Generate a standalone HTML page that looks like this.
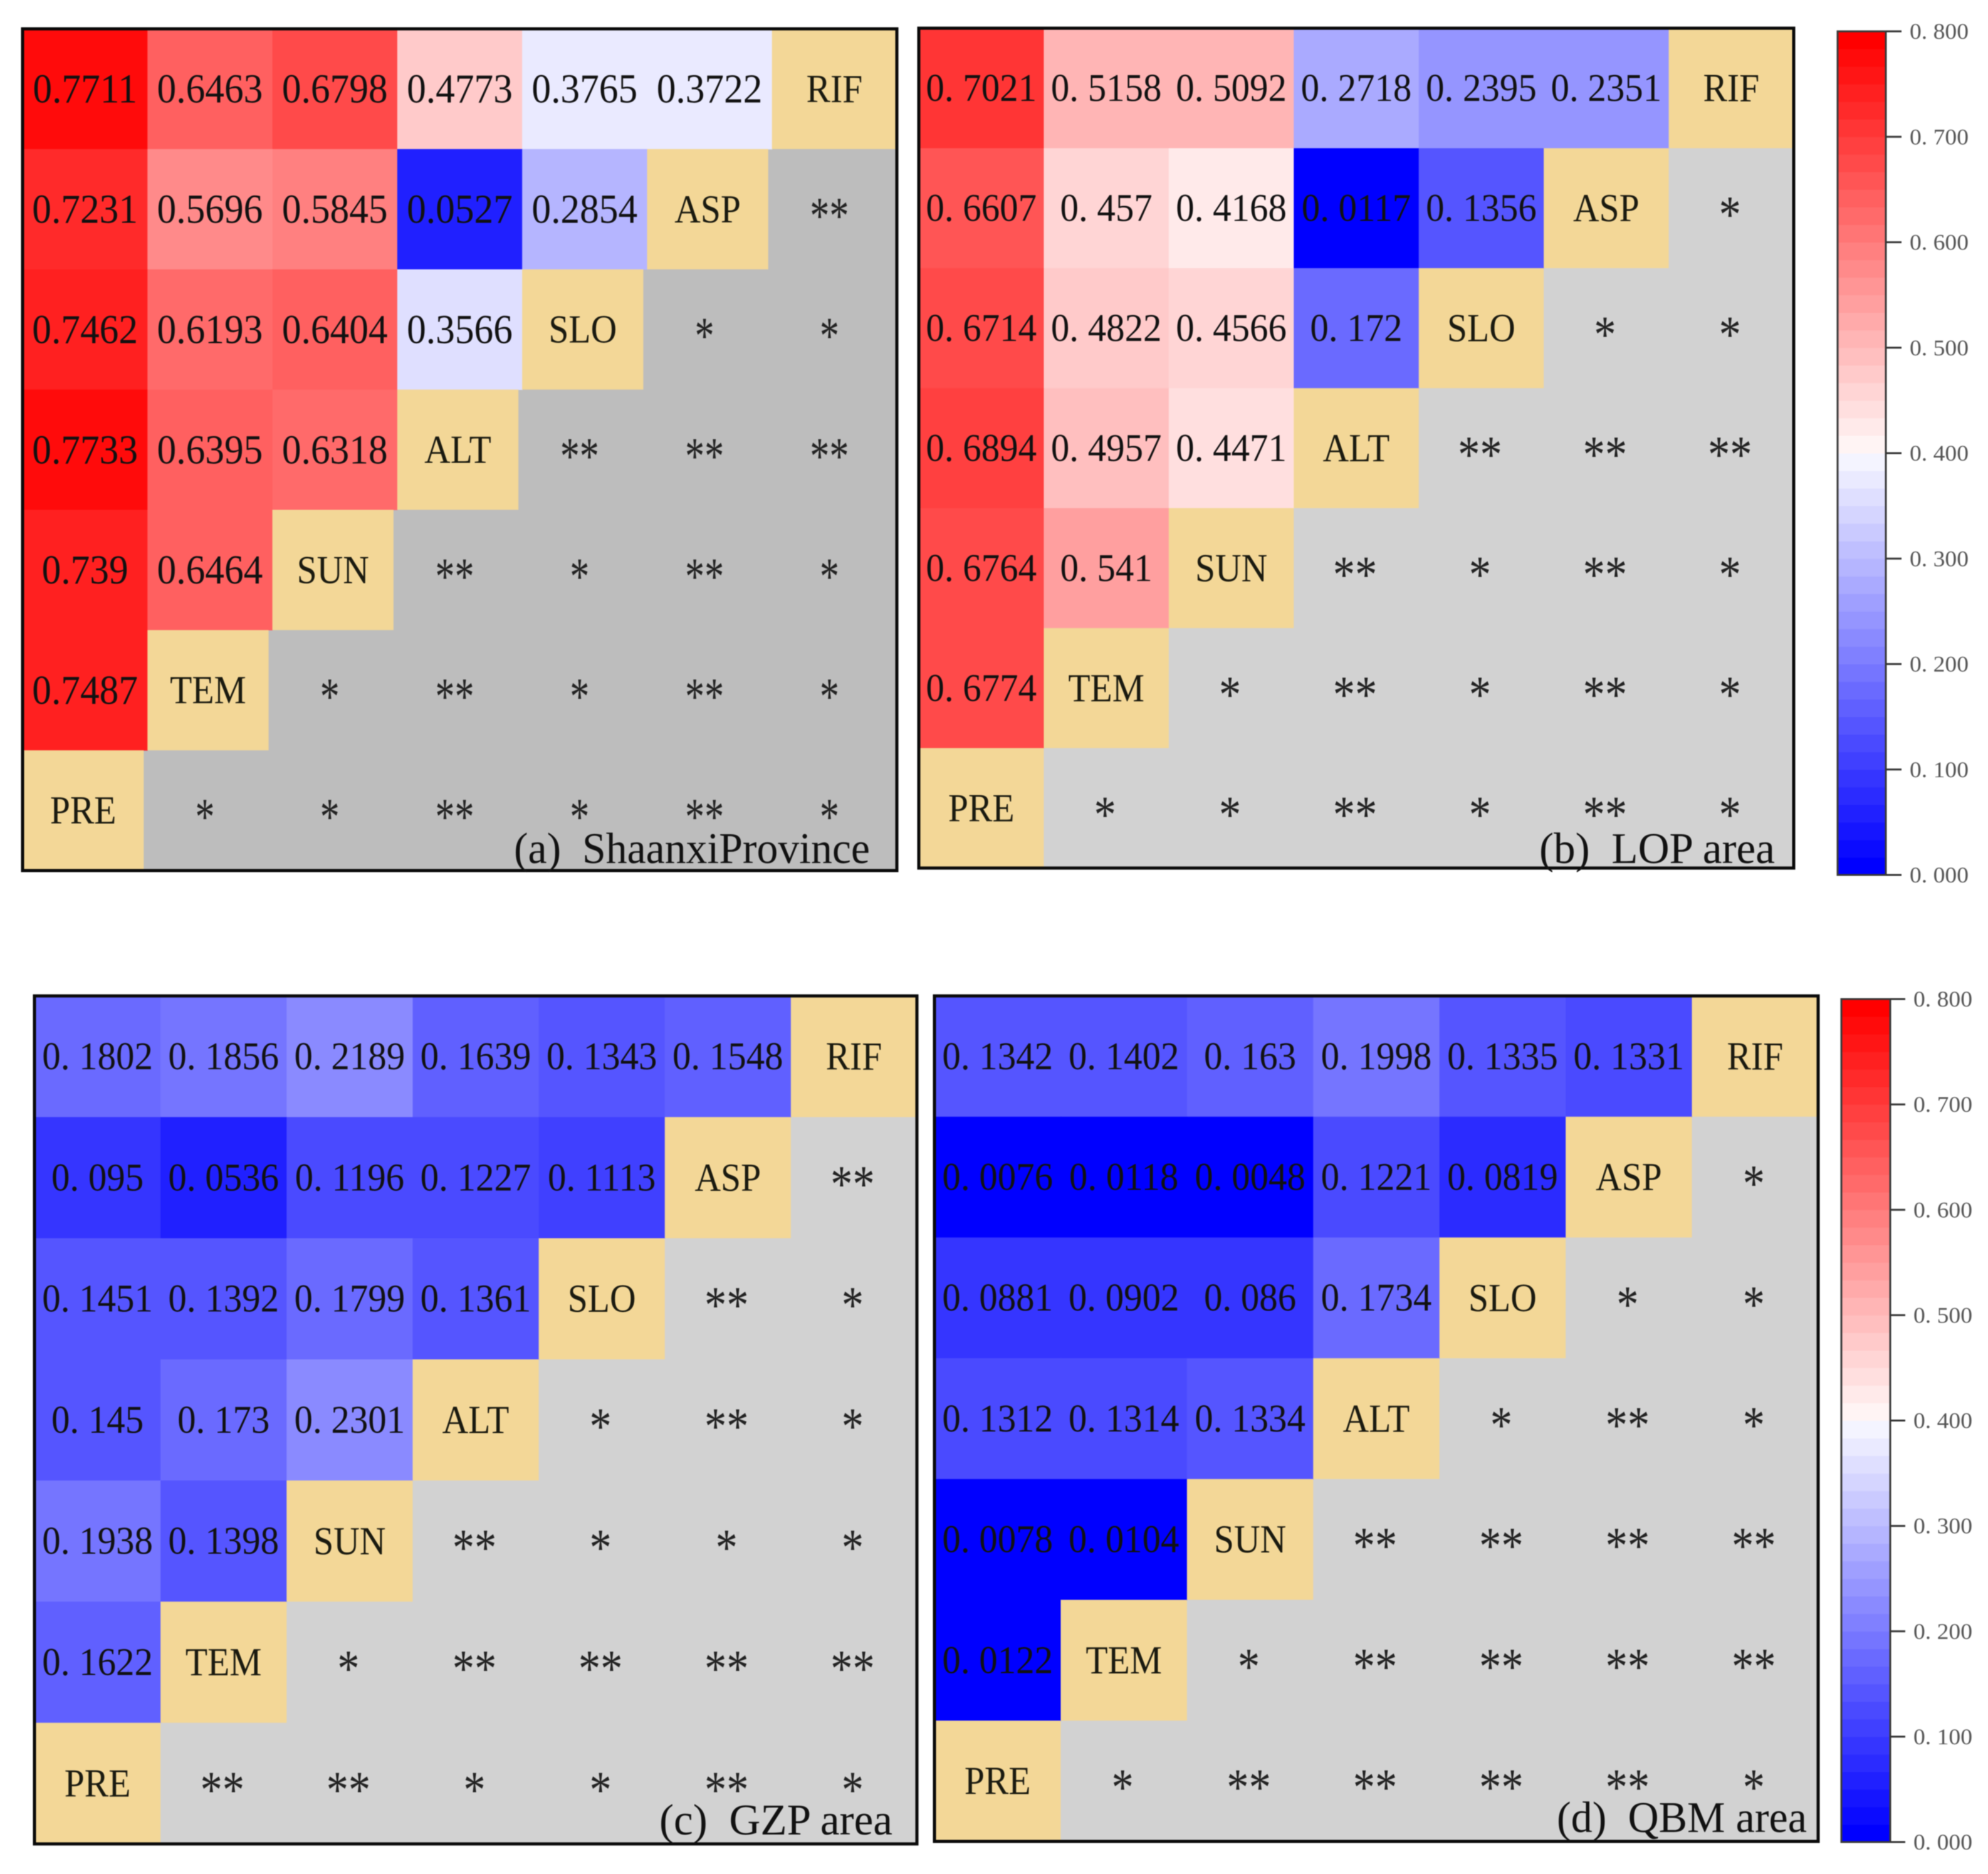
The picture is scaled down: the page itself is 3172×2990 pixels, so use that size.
<!DOCTYPE html>
<html>
<head>
<meta charset="utf-8">
<title>Interaction heatmaps</title>
<style>
html,body{margin:0;padding:0;background:#fff;}
svg{display:block;filter:blur(0.7px);}
text{font-family:"Liberation Serif","Noto Serif CJK SC",serif;}
</style>
</head>
<body>
<svg id="figure" xmlns="http://www.w3.org/2000/svg" width="3172" height="2990" viewBox="0 0 3172 2990">
  <rect x="0" y="0" width="3172" height="2990" fill="#ffffff"></rect>
  <g id="panel-a"></g>
  <g id="panel-b"></g>
  <g id="panel-c"></g>
  <g id="panel-d"></g>
  <g id="colorbar-top"></g>
  <g id="colorbar-bottom"></g>
</svg>
<script>
const factors = ["PRE", "TEM", "SUN", "ALT", "SLO", "ASP", "RIF"];
const colorbarTicks = [0, 0.1, 0.2, 0.3, 0.4, 0.5, 0.6, 0.7, 0.8];

const panelAValues = [
  [0.7711, 0.6463, 0.6798, 0.4773, 0.3765, 0.3722],
  [0.7231, 0.5696, 0.5845, 0.0527, 0.2854],
  [0.7462, 0.6193, 0.6404, 0.3566],
  [0.7733, 0.6395, 0.6318],
  [0.739, 0.6464],
  [0.7487],
  []
];
const panelAStars = [
  [],
  ["**"],
  ["*", "*"],
  ["**", "**", "**"],
  ["**", "*", "**", "*"],
  ["*", "**", "*", "**", "*"],
  ["*", "*", "**", "*", "**", "*"]
];

const panelBValues = [
  [0.7021, 0.5158, 0.5092, 0.2718, 0.2395, 0.2351],
  [0.6607, 0.457, 0.4168, 0.0117, 0.1356],
  [0.6714, 0.4822, 0.4566, 0.172],
  [0.6894, 0.4957, 0.4471],
  [0.6764, 0.541],
  [0.6774],
  []
];
const panelBStars = [
  [],
  ["*"],
  ["*", "*"],
  ["**", "**", "**"],
  ["**", "*", "**", "*"],
  ["*", "**", "*", "**", "*"],
  ["*", "*", "**", "*", "**", "*"]
];

const panelCValues = [
  [0.1802, 0.1856, 0.2189, 0.1639, 0.1343, 0.1548],
  [0.095, 0.0536, 0.1196, 0.1227, 0.1113],
  [0.1451, 0.1392, 0.1799, 0.1361],
  [0.145, 0.173, 0.2301],
  [0.1938, 0.1398],
  [0.1622],
  []
];
const panelCStars = [
  [],
  ["**"],
  ["**", "*"],
  ["*", "**", "*"],
  ["**", "*", "*", "*"],
  ["*", "**", "**", "**", "**"],
  ["**", "**", "*", "*", "**", "*"]
];

const panelDValues = [
  [0.1342, 0.1402, 0.163, 0.1998, 0.1335, 0.1331],
  [0.0076, 0.0118, 0.0048, 0.1221, 0.0819],
  [0.0881, 0.0902, 0.086, 0.1734],
  [0.1312, 0.1314, 0.1334],
  [0.0078, 0.0104],
  [0.0122],
  []
];
const panelDStars = [
  [],
  ["*"],
  ["*", "*"],
  ["*", "**", "*"],
  ["**", "**", "**", "**"],
  ["*", "**", "**", "**", "**"],
  ["*", "**", "**", "**", "**", "*"]
];

const SVG_NS = "http://www.w3.org/2000/svg";
const COLOR_MIN = 0;
const COLOR_MAX = 0.8;
const COLOR_LEVELS = 48;

function colorFor(value) {
  const span = COLOR_MAX - COLOR_MIN;
  const level = Math.min(COLOR_LEVELS - 1, Math.max(0, Math.floor((value - COLOR_MIN) / span * COLOR_LEVELS)));
  if (level < COLOR_LEVELS / 2) {
    const c = Math.round(255 * level / (COLOR_LEVELS / 2));
    return "rgb(" + c + "," + c + ",255)";
  }
  const c = Math.round(255 * (1 - (level + 1 - COLOR_LEVELS / 2) / (COLOR_LEVELS / 2)));
  return "rgb(255," + c + "," + c + ")";
}

function shape(tag, attrs, parent) {
  const el = document.createElementNS(SVG_NS, tag);
  Object.keys(attrs).forEach(function (k) { el.setAttribute(k, attrs[k]); });
  parent.appendChild(el);
  return el;
}

function label(content, cx, baseline, size, squeeze, fill, parent) {
  const el = shape("text", {
    transform: "translate(" + cx + "," + baseline + ") scale(" + squeeze + ",1)",
    "text-anchor": "middle",
    "font-size": size,
    fill: fill
  }, parent);
  el.textContent = content;
  return el;
}

function drawPanel(opts) {
  const g = document.getElementById(opts.id);
  const colX = function (i) { return opts.left + i * (opts.right - opts.left) / 7; };
  const rowY = function (r) { return opts.top + r * (opts.bottom - opts.top) / 7; };

  const bg = shape("rect", {
    x: opts.left, y: opts.top,
    width: opts.right - opts.left, height: opts.bottom - opts.top,
    fill: opts.grey
  }, g);
  
  

  opts.values.forEach(function (rowValues, r) {
    const cy = (rowY(r) + rowY(r + 1)) / 2;

    rowValues.forEach(function (value, c) {
      const cell = shape("rect", {
        x: colX(c), y: rowY(r),
        width: colX(c + 1) - colX(c) + 0.5, height: rowY(r + 1) - rowY(r) + 0.5,
        fill: colorFor(value)
      }, g);
      
      

      const txt = label(opts.format(value), (colX(c) + colX(c + 1)) / 2, cy + opts.numSize * 0.33, opts.numSize, opts.numSqueeze, "#111", g);
      
      
    });

    const d = 6 - r;
    const diagRight = d === 6 ? opts.right : colX(d + 1) - opts.gap;
    const diag = shape("rect", {
      x: colX(d), y: rowY(r),
      width: diagRight - colX(d), height: rowY(r + 1) - rowY(r),
      fill: "#f3d797"
    }, g);
    
    

    const name = label(factors[d], (colX(d) + diagRight) / 2, cy + 21, 64, 0.9, "#1a1a10", g);
    
    

    opts.stars[r].forEach(function (mark, k) {
      const c = 7 - r + k;
      const star = shape("text", {
        transform: "translate(" + ((colX(c) + colX(c + 1)) / 2 + opts.starShift) + "," + (cy + 38) + ") scale(" + opts.starSqueeze + ",1)",
        "text-anchor": "middle",
        "font-size": 84,
        fill: "#222"
      }, g);
      star.textContent = mark;
      
      
    });
  });

  const frame = shape("rect", {
    x: opts.left, y: opts.top,
    width: opts.right - opts.left, height: opts.bottom - opts.top,
    fill: "none", stroke: "#0a0a0a", "stroke-width": 5
  }, g);
  
  

  const cap = shape("text", {
    x: opts.capX, y: opts.capY,
    "font-size": 70,
    fill: "#111",
    textLength: opts.capW,
    lengthAdjust: "spacingAndGlyphs",
    "xml:space": "preserve",
    style: "white-space:pre"
  }, g);
  cap.textContent = opts.caption;
  
  
}

function drawColorbar(id, left, right, top, bottom, tickEnd, labelX) {
  const g = document.getElementById(id);
  const yOf = function (v) { return bottom - (v - COLOR_MIN) / (COLOR_MAX - COLOR_MIN) * (bottom - top); };
  for (let i = 0; i < COLOR_LEVELS; i++) {
    const low = COLOR_MIN + (COLOR_MAX - COLOR_MIN) * i / COLOR_LEVELS;
    const high = COLOR_MIN + (COLOR_MAX - COLOR_MIN) * (i + 1) / COLOR_LEVELS;
    const band = shape("rect", {
      x: left, y: yOf(high), width: right - left, height: yOf(low) - yOf(high) + 0.5,
      fill: colorFor((low + high) / 2)
    }, g);
    
    
  }
  const frame = shape("rect", {
    x: left, y: top, width: right - left, height: bottom - top,
    fill: "none", stroke: "#3a3a3a", "stroke-width": 3
  }, g);
  
  

  colorbarTicks.forEach(function (v) {
    const tick = shape("line", {
      x1: right, x2: tickEnd, y1: yOf(v), y2: yOf(v), stroke: "#333", "stroke-width": 3
    }, g);
    
    

    const t = shape("text", {
      x: labelX, y: yOf(v) + 12,
      "font-size": 36,
      fill: "#555",
      textLength: 94,
      lengthAdjust: "spacingAndGlyphs"
    }, g);
    t.textContent = "0. " + v.toFixed(3).slice(2);
    
    
  });
}

const plain = function (v) { return String(v); };
const spaced = function (v) { return String(v).replace(".", ". "); };

drawPanel({ id: "panel-a", left: 36, right: 1431, top: 46, bottom: 1389, grey: "#bdbdbd", gap: 6,
  values: panelAValues, stars: panelAStars, format: plain, numSize: 66, numSqueeze: 0.93, starSqueeze: 0.74, starShift: -8,
  caption: "(a)  ShaanxiProvince", capX: 820, capY: 1377, capW: 568 });
drawPanel({ id: "panel-b", left: 1466, right: 2862, top: 45, bottom: 1385, grey: "#d2d2d2", gap: 0,
  values: panelBValues, stars: panelBStars, format: spaced, numSize: 62, numSqueeze: 0.95, starSqueeze: 0.84, starShift: -2,
  caption: "(b)  LOP area", capX: 2456, capY: 1377, capW: 376 });
drawPanel({ id: "panel-c", left: 55, right: 1463, top: 1589, bottom: 2942, grey: "#d2d2d2", gap: 0,
  values: panelCValues, stars: panelCStars, format: spaced, numSize: 62, numSqueeze: 0.95, starSqueeze: 0.84, starShift: -2,
  caption: "(c)  GZP area", capX: 1052, capY: 2927, capW: 372 });
drawPanel({ id: "panel-d", left: 1491, right: 2901, top: 1589, bottom: 2938, grey: "#d2d2d2", gap: 0,
  values: panelDValues, stars: panelDStars, format: spaced, numSize: 62, numSqueeze: 0.95, starSqueeze: 0.84, starShift: -2,
  caption: "(d)  QBM area", capX: 2484, capY: 2923, capW: 399 });

drawColorbar("colorbar-top", 2932, 3009, 50, 1396, 3034, 3047);
drawColorbar("colorbar-bottom", 2938, 3016, 1594, 2939, 3040, 3053);
</script>
</body>
</html>
